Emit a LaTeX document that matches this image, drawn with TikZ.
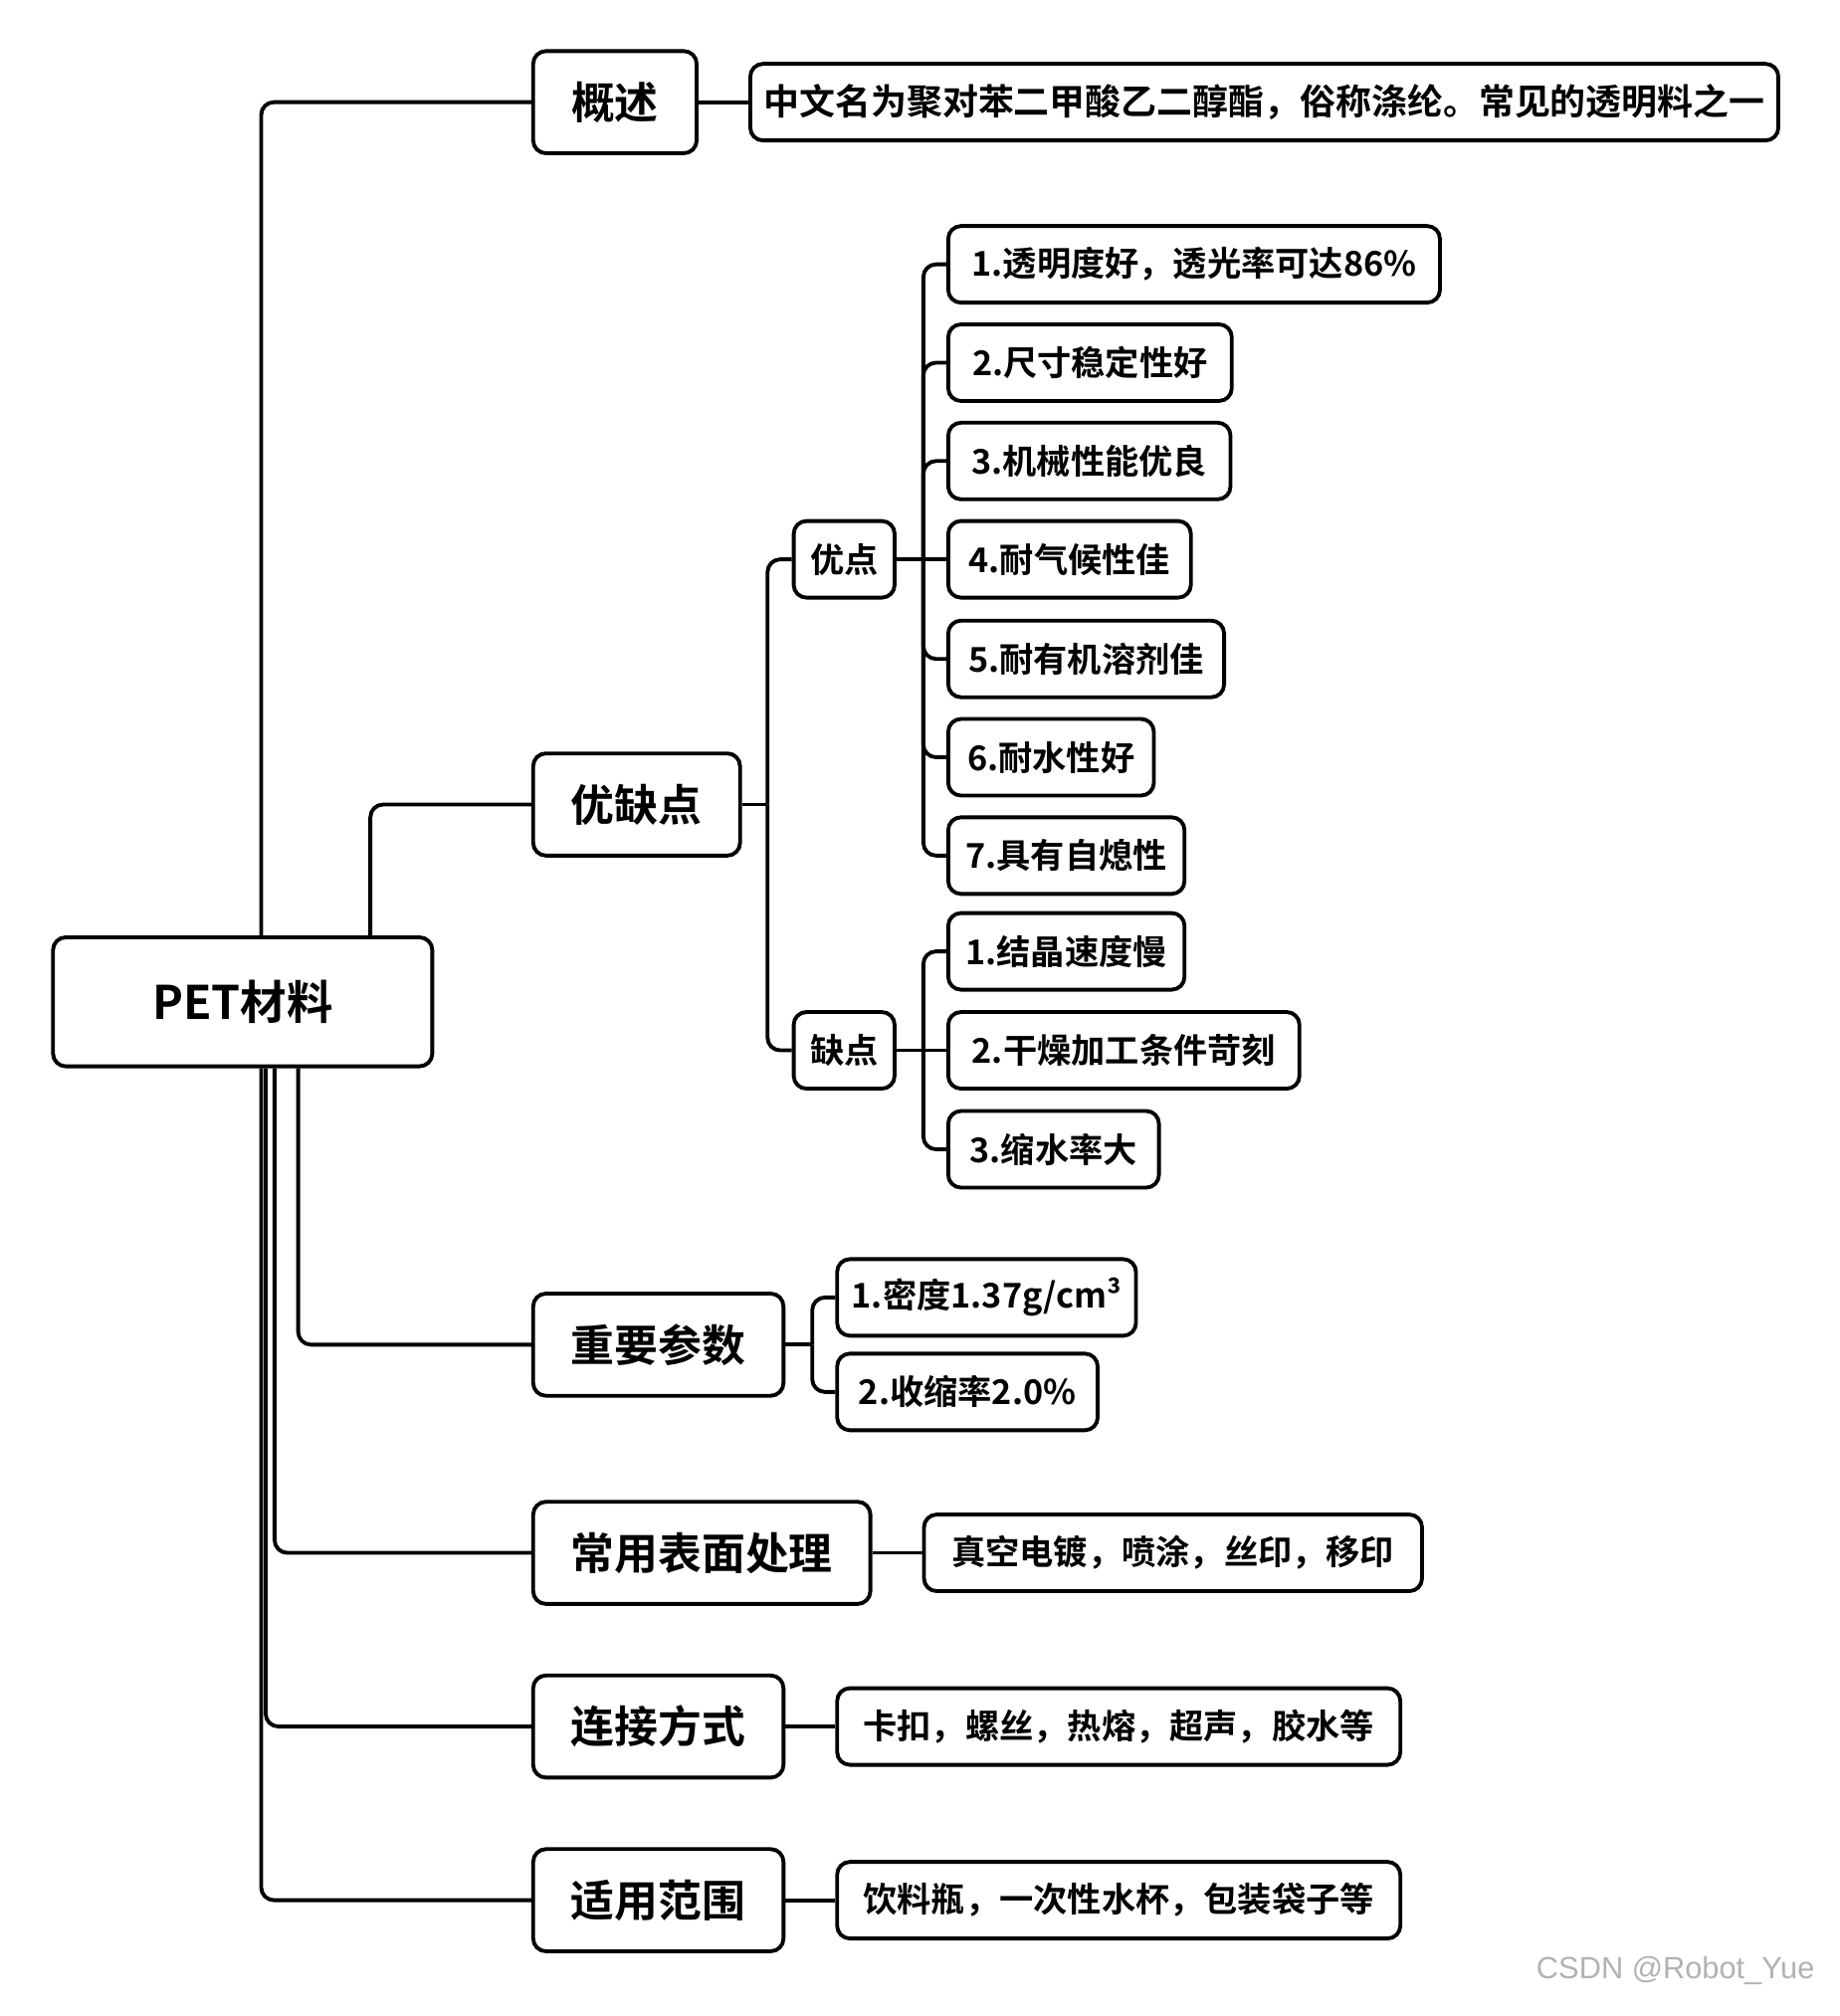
\documentclass[tikz,border=0pt]{standalone}
\usepackage{fontspec}
\setmainfont{Noto Sans CJK SC}[BoldFont={Noto Sans CJK SC Bold}]
\newfontfamily\wmfont{Liberation Sans}
\usetikzlibrary{calc}
\tikzset{
  box/.style 2 args={draw=black, line width=1.8pt, rounded corners=6pt, fill=white,
    inner sep=0pt, anchor=west, align=center,
    minimum width={#1*0.6pt}, minimum height={#2*0.6pt}, font=\bfseries\fontsize{16}{18}\selectfont},
  rootfont/.style={font=\bfseries\fontsize{21.7}{24}\selectfont},
  midfont/.style={font=\bfseries\fontsize{20.5}{23}\selectfont},
  ovfont/.style={font=\bfseries\fontsize{16.8}{19}\selectfont},
  conn/.style={draw=black, line width=1.8pt, rounded corners=6pt},
}
\begin{document}
\begin{tikzpicture}[x=0.6pt,y=-0.6pt]
\useasboundingbox[fill=white] (0,0) rectangle (1440,1578.7);
% root
\node[box={297}{101}, rootfont] (pet) at (40,784.5) {PET材料};
% level 2
\node[box={128}{80}, midfont] (gs) at (416,80) {概述};
\node[box={162}{80}, midfont] (yq) at (416,630) {优缺点};
\node[box={196}{80}, midfont] (cs) at (416,1053) {重要参数};
\node[box={264}{80}, midfont] (bm) at (416,1216) {常用表面处理};
\node[box={196}{80}, midfont] (lj) at (416,1352) {连接方式};
\node[box={196}{80}, midfont] (fw) at (416,1488) {适用范围};
% level 3
\node[box={805}{60}, ovfont] (gs1) at (586,80) {中文名为聚对苯二甲酸乙二醇酯，俗称涤纶。常见的透明料之一};
\node[box={79}{60}] (yd) at (620,438) {优点};
\node[box={79}{60}] (qd) at (620,822.5) {缺点};
\node[box={234}{60}] (cs1) at (654,1016) {1.密度1.37g/cm³};
\node[box={204}{60}] (cs2) at (654,1090) {2.收缩率2.0\%};
\node[box={390}{60}] (bm1) at (722,1216) {真空电镀，喷涂，丝印，移印};
\node[box={441}{60}] (lj1) at (654,1352) {卡扣，螺丝，热熔，超声，胶水等};
\node[box={441}{60}] (fw1) at (654,1488) {饮料瓶，一次性水杯，包装袋子等};
% level 4
\node[box={385}{60}] (a1) at (741,207) {1.透明度好，透光率可达86\%};
\node[box={222}{60}] (a2) at (741,284) {2.尺寸稳定性好};
\node[box={221}{60}] (a3) at (741,361) {3.机械性能优良};
\node[box={190}{60}] (a4) at (741,438) {4.耐气候性佳};
\node[box={216}{60}] (a5) at (741,516) {5.耐有机溶剂佳};
\node[box={161}{60}] (a6) at (741,593) {6.耐水性好};
\node[box={185}{60}] (a7) at (741,670) {7.具有自熄性};
\node[box={185}{60}] (d1) at (741,745) {1.结晶速度慢};
\node[box={275}{60}] (d2) at (741,822.5) {2.干燥加工条件苛刻};
\node[box={165}{60}] (d3) at (741,900) {3.缩水率大};
% watermark
\node[font=\wmfont\fontsize{14.4}{16}\selectfont, text=black!30, inner sep=0pt] (wm) at (1312,1543) {CSDN @Robot\_Yue};
% connectors from root
\draw[conn] ($(pet.north)+(14.5,0)$) |- (gs.west);
\draw[conn] ($(pet.north)+(100,0)$) |- (yq.west);
\draw[conn] ($(pet.south)+(43.5,0)$) |- (cs.west);
\draw[conn] ($(pet.south)+(25,0)$) |- (bm.west);
\draw[conn] ($(pet.south)+(18,0)$) |- (lj.west);
\draw[conn] ($(pet.south)+(14.5,0)$) |- (fw.west);
% single children
\draw[conn] (gs.east) -- (gs1.west);
\draw[conn] (bm.east) -- (bm1.west);
\draw[conn] (lj.east) -- (lj1.west);
\draw[conn] (fw.east) -- (fw1.west);
% yq -> yd, qd
\draw[conn] (yq.east) -- ++(20,0) coordinate (j1);
\draw[conn] (j1) |- (yd.west);
\draw[conn] (j1) |- (qd.west);
% yd -> a1..a7
\draw[conn] (yd.east) -- ++(21,0) coordinate (j2);
\foreach \n in {a1,a2,a3,a5,a6,a7} {\draw[conn] (j2) |- (\n.west);}
\draw[conn] (j2) -- (a4.west);
% qd -> d1..d3
\draw[conn] (qd.east) -- ++(21,0) coordinate (j3);
\foreach \n in {d1,d3} {\draw[conn] (j3) |- (\n.west);}
\draw[conn] (j3) -- (d2.west);
% cs -> cs1, cs2
\draw[conn] (cs.east) -- ++(21,0) coordinate (j4);
\draw[conn] (j4) |- (cs1.west);
\draw[conn] (j4) |- (cs2.west);
\end{tikzpicture}
\end{document}
